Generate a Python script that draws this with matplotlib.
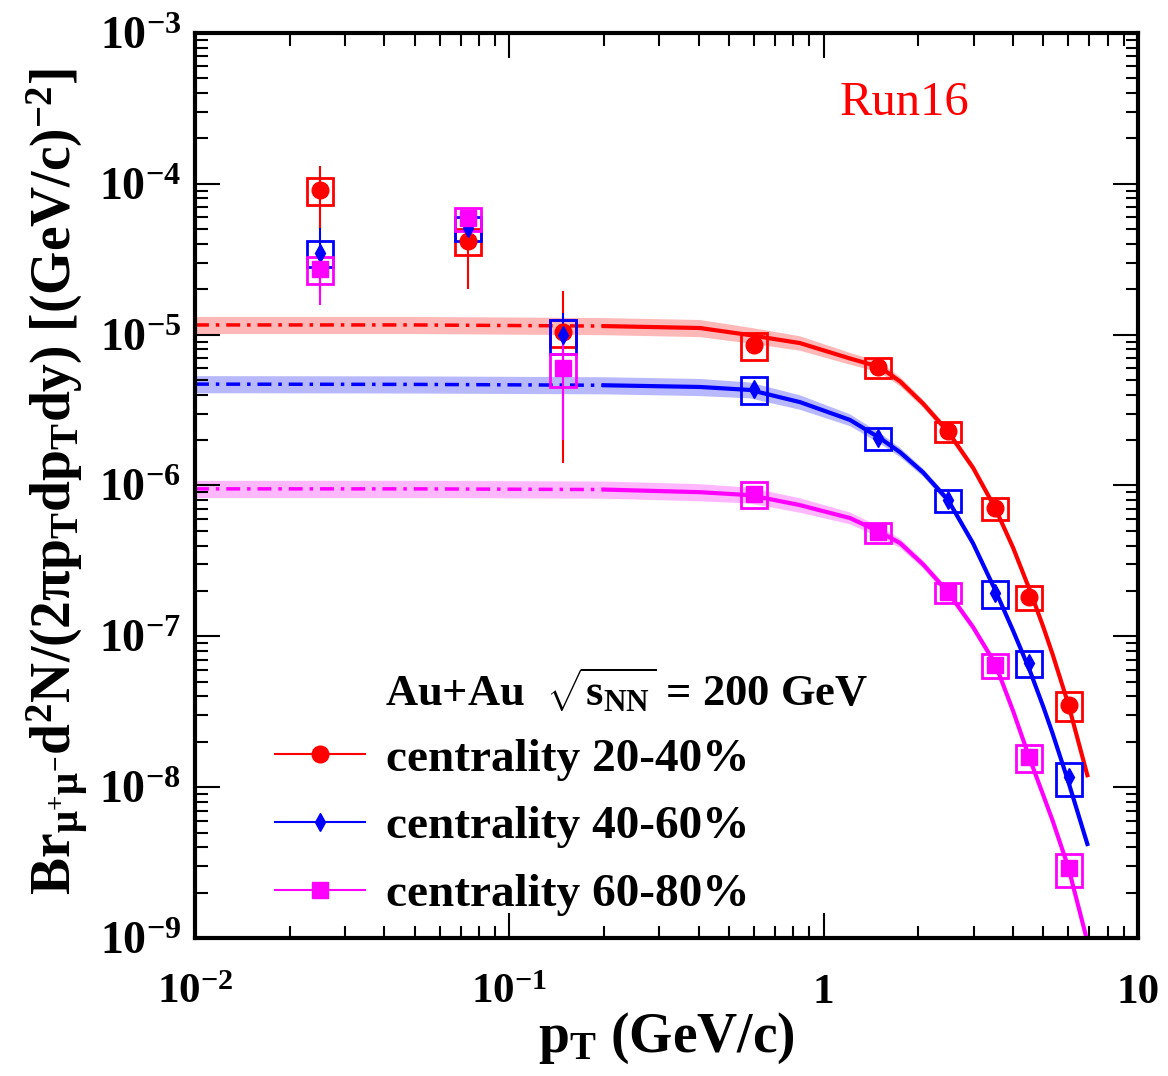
import matplotlib
matplotlib.use("Agg")
import matplotlib.pyplot as plt
from matplotlib.lines import Line2D
from matplotlib.patches import Rectangle
import numpy as np

# Fonts: Times-like bold everywhere
plt.rcParams['font.family'] = ['Liberation Serif', 'DejaVu Serif']
plt.rcParams['font.weight'] = 'bold'
plt.rcParams['mathtext.fontset'] = 'custom'
plt.rcParams['mathtext.rm'] = 'Liberation Serif'
plt.rcParams['mathtext.bf'] = 'Liberation Serif:bold'
plt.rcParams['mathtext.it'] = 'Liberation Serif:italic:bold'
plt.rcParams['mathtext.default'] = 'bf'

# ---- data ----
pt = [0.025, 0.074, 0.148, 0.60, 1.49, 2.49, 3.51, 4.5, 6.04]

y_2040 = [9.1e-5, 4.2e-5, 1.04e-5, 8.5e-6, 6.1e-6, 2.3e-6, 7.1e-7, 1.82e-7, 3.5e-8]
e_2040 = [4.0e-5, 2.2e-5, 9.0e-6, 4e-7, 2.5e-7, 8e-8, 3e-8, 8e-9, 2e-9]
s_2040 = [0.20, 0.20, 0.20, 0.20, 0.15, 0.15, 0.17, 0.18, 0.22]

y_4060 = [3.5e-5, 5.1e-5, 1.0e-5, 4.35e-6, 2.06e-6, 8.0e-7, 1.93e-7, 6.7e-8, 1.16e-8]
e_4060 = [1.6e-5, 4e-6, 3.9e-6, 2e-7, 8e-8, 3e-8, 8e-9, 3e-9, 8e-10]
s_4060 = [0.20, 0.18, 0.25, 0.20, 0.17, 0.16, 0.20, 0.20, 0.25]

y_6080 = [2.72e-5, 5.9e-5, 6.0e-6, 8.8e-7, 4.9e-7, 1.96e-7, 6.5e-8, 1.58e-8, 2.9e-9]
e_6080 = [1.14e-5, 4e-6, 4e-6, 4e-8, 2e-8, 7e-9, 3e-9, 8e-10, 2e-10]
s_6080 = [0.20, 0.18, 0.25, 0.20, 0.15, 0.15, 0.18, 0.20, 0.25]

# fit curves on a common pT grid
fit_pt = [0.01, 0.05, 0.2, 0.404, 0.583, 0.841, 1.213, 1.511, 1.751, 2.072,
          2.488, 2.988, 3.511, 4.005, 4.537, 5.0, 5.35, 6.0, 6.9]
fit_2040 = [1.16e-5, 1.16e-5, 1.14e-5, 1.107e-5, 9.93e-6, 8.79e-6, 6.95e-6, 6.09e-6, 4.89e-6, 3.49e-6,
            2.27e-6, 1.31e-6, 7.1e-7, 3.87e-7, 2.0e-7, 1.15e-7, 7.6e-8, 3.56e-8, 1.2e-8]
fit_4060 = [4.7e-6, 4.68e-6, 4.62e-6, 4.5e-6, 4.3e-6, 3.57e-6, 2.72e-6, 2.06e-6, 1.66e-6, 1.22e-6,
            8.0e-7, 4.13e-7, 2.03e-7, 1.09e-7, 5.86e-8, 3.4e-8, 2.27e-8, 1.09e-8, 4.2e-9]
fit_6080 = [9.5e-7, 9.5e-7, 9.4e-7, 9.03e-7, 8.63e-7, 7.41e-7, 6.08e-7, 4.91e-7, 4.15e-7, 3.0e-7,
            1.96e-7, 1.15e-7, 6.6e-8, 3.2e-8, 1.52e-8, 8.8e-9, 6.0e-9, 2.95e-9, 9.5e-10]
# relative half width of the fit uncertainty band along the grid
band_rel = [0.13, 0.13, 0.13, 0.13, 0.12, 0.11, 0.09, 0.08, 0.07, 0.06,
            0.06, 0.06, 0.06, 0.06, 0.06, 0.06, 0.06, 0.06, 0.06]
dash_end = 0.2       # fit drawn dashed below this pT

labels = ["centrality 20-40%", "centrality 40-60%", "centrality 60-80%"]
colors = ["#ff0000", "#0000ff", "#ff00ff"]
markers = ["o", "d", "s"]
msizes = [12, 9, 11]

# ---- figure ----
fig = plt.figure(figsize=(11.68, 10.76), dpi=100)
ax = fig.add_axes([195 / 1168, 1 - 938 / 1076, 943 / 1168, 905 / 1076])
ax.set_xscale('log')
ax.set_yscale('log')
ax.set_xlim(1e-2, 10)
ax.set_ylim(1e-9, 1e-3)

series = [
    (y_2040, e_2040, s_2040, fit_2040),
    (y_4060, e_4060, s_4060, fit_4060),
    (y_6080, e_6080, s_6080, fit_6080),
]

# Fit bands and lines
fx = np.array(fit_pt)
rel = np.array(band_rel)
for (yv, ev, sv, fy), c in zip(series, colors):
    fy = np.array(fy)
    ax.fill_between(fx, fy * (1 - rel), fy * (1 + rel), facecolor=c, alpha=0.28,
                    edgecolor='none', zorder=1)
    low = fx <= dash_end
    ax.plot(fx[low], fy[low], color=c, lw=2.5, ls=(0, (4, 2, 1, 2)), zorder=2)
    ax.plot(fx[fx >= dash_end], fy[fx >= dash_end], color=c, lw=3, zorder=2)

# Data points with stat errors and systematic boxes
for (yv, ev, sv, fy), c, m, ms in zip(series, colors, markers, msizes):
    for x, y, s in zip(pt, yv, sv):
        box = Rectangle((x / 1.1, y * (1 - s)), x * 1.1 - x / 1.1, y * (1 + s) - y * (1 - s),
                        fill=False, edgecolor=c, lw=2, zorder=3)
        ax.add_patch(box)
    ax.errorbar(pt, yv, yerr=ev, fmt=m, color=c, ms=ms, elinewidth=1.5, capsize=0,
                zorder=4)

# Ticks
ax.set_xticks([1e-2, 1e-1, 1, 10])
ax.set_xticklabels([r'$10^{-2}$', r'$10^{-1}$', '1', '10'])
ax.set_yticks([10.0 ** k for k in range(-9, -2)])
ax.set_yticklabels([r'$10^{%d}$' % k for k in range(-9, -2)])
ax.tick_params(which='both', direction='in', top=True, right=True, width=1.5)
ax.tick_params(which='major', length=18, labelsize=31, pad=10)
ax.tick_params(which='minor', length=9)
ax.tick_params(axis='x', which='major', pad=26)
ax.tick_params(axis='y', which='major', labelsize=33)
ax.minorticks_on()
for sp in ax.spines.values():
    sp.set_linewidth(3)

# Axis labels
ax.set_xlabel(r'p$_{\mathbf{T}}$ (GeV/c)', fontsize=40, fontweight='bold')
ax.xaxis.set_label_coords(0.5, -0.08)
ax.set_ylabel(r'Br$_{\mu^{+}\mu^{-}}$d$^{2}$N/(2$\pi$p$_{\mathbf{T}}$dp$_{\mathbf{T}}$dy) [(GeV/c)$^{-2}$]',
              fontsize=40, fontweight='bold')
ax.yaxis.set_label_coords(-0.11, 0.505)

# Annotations
ax.text(0.684, 0.923, 'Run16', color='red', fontsize=35, fontweight='normal',
        transform=ax.transAxes, ha='left', va='center')
ax.text(0.2015, 0.274, r'Au+Au  $\sqrt{\mathrm{s}_{\mathrm{NN}}}$ = 200 GeV', fontsize=32,
        fontweight='bold', transform=ax.transAxes, ha='left', va='center')

# Legend
handles = [Line2D([], [], color=c, marker=m, ms=ms, lw=1.5) for c, m, ms in zip(colors, markers, msizes)]
ax.legend(handles, labels, loc='center left', bbox_to_anchor=(0.085, 0.1227), frameon=False,
          handlelength=1.9, handletextpad=0.45, labelspacing=0.52, borderpad=0,
          borderaxespad=0, prop={'weight': 'bold', 'size': 34})

fig.savefig('out.png', dpi=100)
